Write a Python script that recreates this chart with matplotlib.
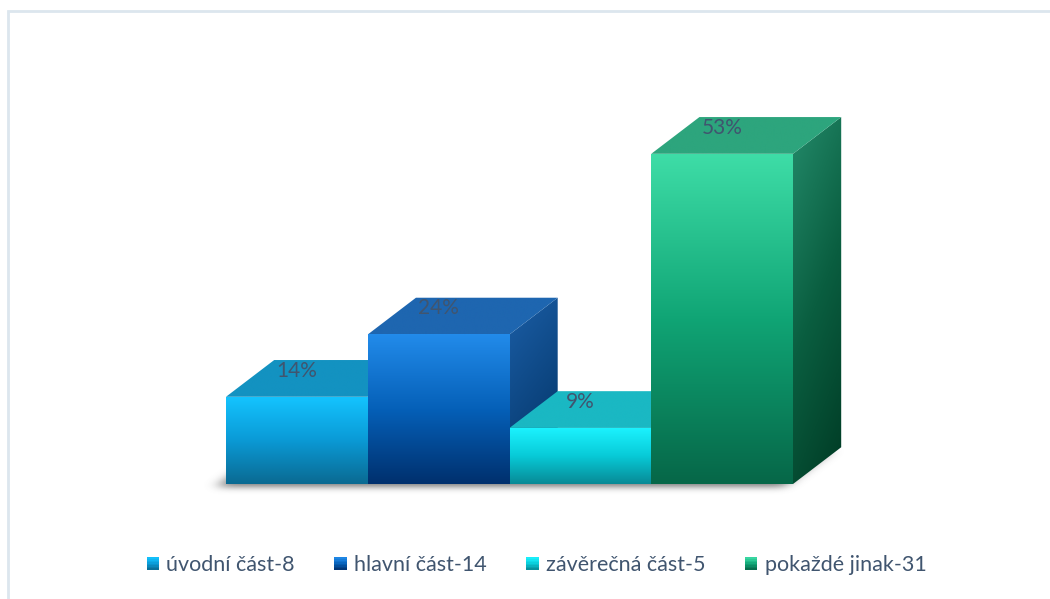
import numpy as np
import matplotlib
matplotlib.use("Agg")
from matplotlib import pyplot as plt
from matplotlib.colors import LinearSegmentedColormap
from matplotlib.patches import Polygon, Rectangle
from matplotlib.path import Path
from matplotlib.legend_handler import HandlerBase

categories = ["úvodní část", "hlavní část", "závěrečná část", "pokaždé jinak"]
counts = [8, 14, 5, 31]
percents = [14, 24, 9, 53]

front_colors = [
    ["#14C4FF", "#0A9AD6", "#0A6A92"],
    ["#228BEA", "#0560B8", "#00306E"],
    ["#1CF3FF", "#08CBD8", "#078A96"],
    ["#3EDDA7", "#10A575", "#066748"],
]
top_colors = ["#1392C1", "#1E66B0", "#1AB8C3", "#2DA57D"]
side_colors = [
    ["#1090C0", "#0A5E80"],
    ["#1B5EA6", "#003060"],
    ["#16B0BA", "#066C76"],
    ["#238A6A", "#0A5E40", "#003A24"],
]
text_color = "#40556F"

plt.rcParams["font.family"] = ["Lato", "DejaVu Sans"]

# oblique depth of the boxes, in data units
ddx = 0.34
ddy = 5.9


def gradient_poly(ax, verts, colors, mode="v", z=2):
    verts = np.asarray(verts, dtype=float)
    poly = Polygon(verts, closed=True, facecolor="none", edgecolor="none", zorder=z)
    ax.add_patch(poly)
    cmap = LinearSegmentedColormap.from_list("g", colors)
    ny, nx = 128, 64
    yy, xx = np.mgrid[0:1:ny * 1j, 0:1:nx * 1j]
    if mode == "v":
        arr = yy
    elif mode == "d":
        arr = 0.75 * yy + 0.25 * xx
    else:
        arr = np.zeros_like(yy)
    extent = (verts[:, 0].min(), verts[:, 0].max(), verts[:, 1].min(), verts[:, 1].max())
    im = ax.imshow(arr, cmap=cmap, extent=extent, origin="upper", aspect="auto",
                   interpolation="bilinear", zorder=z, vmin=0, vmax=1)
    im.set_clip_path(poly)


def draw_shadow(ax, n):
    xs = np.linspace(-0.6, n + 0.9, 700)
    ys = np.linspace(-5, 12, 260)
    X, Y = np.meshgrid(xs, ys)
    foot = Path([(0, 0), (n, 0), (n + ddx, ddy), (ddx, ddy)])
    pts = np.column_stack([X.ravel() + 0.07, Y.ravel() + 0.5])
    mask = foot.contains_points(pts).reshape(X.shape).astype(float)

    def blur(a, sigma, axis):
        k = np.arange(-3 * sigma, 3 * sigma + 1)
        k = np.exp(-0.5 * (k / sigma) ** 2)
        k /= k.sum()
        return np.apply_along_axis(lambda v: np.convolve(v, k, mode="same"), axis, a)

    mask = blur(blur(mask, 6, 1), 8, 0)
    rgba = np.zeros(mask.shape + (4,))
    rgba[..., :3] = 0.35
    rgba[..., 3] = np.clip(mask * 0.8, 0, 1)
    ax.imshow(rgba, extent=(xs[0], xs[-1], ys[0], ys[-1]), origin="lower",
              aspect="auto", interpolation="bilinear", zorder=1)


class GradientSquare(HandlerBase):
    def __init__(self, colors):
        super().__init__()
        self.colors = colors

    def create_artists(self, legend, orig_handle, xdescent, ydescent,
                       width, height, fontsize, trans):
        side = height * 0.95
        x0 = -xdescent + (width - side) / 2
        y0 = -ydescent + (height - side) / 2
        cmap = LinearSegmentedColormap.from_list("h", self.colors)
        strips = 8
        arts = []
        for i in range(strips):
            c = cmap(1 - (i + 0.5) / strips)
            arts.append(Rectangle((x0, y0 + side * i / strips), side, side / strips + 0.2,
                                  facecolor=c, edgecolor="none", transform=trans))
        return arts


def main():
    fig = plt.figure(figsize=(10.5, 5.99), dpi=100)
    ax = fig.add_axes([0, 0, 1, 1])
    ax.set_axis_off()

    n = len(percents)
    draw_shadow(ax, n)

    for i, p in enumerate(percents):
        x0, x1 = i, i + 1
        z = 3 + i
        # right side face
        gradient_poly(ax, [(x1, 0), (x1 + ddx, ddy), (x1 + ddx, p + ddy), (x1, p)],
                      side_colors[i], mode="d", z=z)
        # top face
        gradient_poly(ax, [(x0, p), (x1, p), (x1 + ddx, p + ddy), (x0 + ddx, p + ddy)],
                      [top_colors[i], top_colors[i]], mode="f", z=z)
        # front face
        gradient_poly(ax, [(x0, 0), (x1, 0), (x1, p), (x0, p)],
                      front_colors[i], mode="v", z=z)
        ax.text(i + 0.5, p + 4.2, f"{p}%", ha="center", va="center",
                fontsize=15, color=text_color, zorder=20)

    ax.set_xlim(-226 / 141.75, (1050 - 226) / 141.75)
    ax.set_ylim(-(599 - 484) / 6.23, 484 / 6.23)

    labels = [f"{c}-{k}" for c, k in zip(categories, counts)]
    handles = [Rectangle((0, 0), 1, 1) for _ in labels]
    handler_map = {h: GradientSquare(front_colors[i]) for i, h in enumerate(handles)}
    fig.legend(handles, labels, handler_map=handler_map, loc="center",
               bbox_to_anchor=(0.511, 0.056), ncol=4, frameon=False,
               fontsize=15.5, labelcolor=text_color, handlelength=0.55,
               handleheight=0.55, handletextpad=0.35, columnspacing=1.85)

    fig.patches.append(Rectangle((8 / 1050, -0.05), 1.1, 1.05 - 11 / 599,
                                 transform=fig.transFigure, fill=False,
                                 edgecolor="#DCE6EE", linewidth=2))

    fig.savefig("out.png", dpi=100)


if __name__ == "__main__":
    main()
